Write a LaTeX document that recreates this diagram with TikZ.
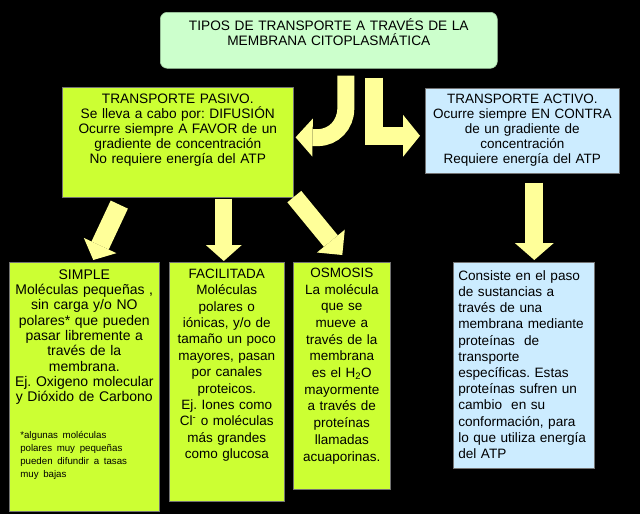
\documentclass[tikz,border=0pt]{standalone}
\usepackage{fontspec}
\setmainfont{Liberation Sans}
\usetikzlibrary{arrows.meta}
\frenchspacing
\hyphenpenalty=10000

\definecolor{titverde}{RGB}{204,255,204}
\definecolor{pasverde}{RGB}{204,255,51}
\definecolor{actazul}{RGB}{204,236,255}
\definecolor{amarillo}{RGB}{255,255,153}

\begin{document}
\begin{tikzpicture}[x=1pt, y=-1pt,
  caja/.style={draw=black!55, line width=0.6pt, anchor=north west,
               inner xsep=4pt, inner ysep=0pt, align=center,
               font=\fontsize{13.5}{15}\selectfont},
  verde/.style={caja, fill=pasverde},
  azul/.style={caja, fill=actazul},
  flecha/.style={draw=amarillo, line width=18pt},
  punta/.style={-{Triangle[length=#1, line width=0pt]}}
]
  \fill[black] (0,0) rectangle (640,514);

  % cajas
  \node[caja, fill=titverde, draw=titverde!80!black, rounded corners=7pt,
        text width=329pt, text height=18pt, text depth=38pt,
        font=\fontsize{13.7}{15}\selectfont] (titulo) at (160,12)
        {TIPOS DE TRANSPORTE A TRAVÉS DE LA\\MEMBRANA CITOPLASMÁTICA};
  \node[verde, text width=223pt, text height=16pt, text depth=94pt,
        font=\fontsize{13.7}{15}\selectfont] (pasivo) at (62,87)
        {TRANSPORTE PASIVO.\\Se lleva a cabo por: DIFUSIÓN\\Ocurre siempre A FAVOR de un\\gradiente de concentración\\No requiere energía del ATP};
  \node[azul, text width=186pt, text height=15pt, text depth=70pt] (activo) at (425,88)
        {TRANSPORTE ACTIVO.\\Ocurre siempre EN CONTRA\\de un gradiente de\\concentración\\Requiere energía del ATP};
  \node[verde, text width=142pt, text height=17pt, text depth=232pt,
        font=\fontsize{14}{15.3}\selectfont] (simple) at (9,262)
        {SIMPLE\\Moléculas pequeñas ,\\sin carga y/o NO\\polares* que pueden\\pasar libremente a\\través de la\\membrana.\\Ej. Oxigeno molecular\\y Dióxido de Carbono\par
         \vspace{21pt}\hspace*{6pt}\makebox[134pt][l]{\fontsize{9.7}{13.3}\selectfont
         \begin{tabular}[t]{@{}l@{}}*algunas moléculas\\polares muy pequeñas\\pueden difundir a tasas\\muy bajas\end{tabular}}};
  \node[verde, text width=107pt, text height=16pt, text depth=223pt,
        font=\fontsize{13.5}{16.4}\selectfont] (facilitada) at (169,262)
        {FACILITADA\\Moléculas\\polares o\\iónicas, y/o de\\tamaño un poco\\mayores, pasan\\por canales\\proteicos.\\Ej. Iones como\\Cl\textsuperscript{-} o moléculas\\más grandes\\como glucosa};
  \node[verde, text width=89pt, text height=15pt, text depth=212pt,
        font=\fontsize{13.5}{16.7}\selectfont] (osmosis) at (293,262)
        {OSMOSIS\\La molécula\\que se\\mueve a\\través de la\\membrana\\es el H\textsubscript{2}O\\mayormente\\a través de\\proteínas\\llamadas\\acuaporinas.};
  \node[azul, align=left, inner xsep=5pt, text width=131pt, text height=18pt, text depth=188pt,
        font=\fontsize{13.6}{16.2}\selectfont] (detalle) at (453,262)
        {Consiste en el paso\\de sustancias a\\través de una\\membrana mediante\\proteínas~ de\\transporte\\específicas. Estas\\proteínas sufren un\\cambio~ en su\\conformación, para\\lo que utiliza energía\\del ATP};

  % flechas
  \draw[flecha, line width=17pt, punta={17pt, width=38pt}]
    ([shift={(17,7)}]titulo.south) -- ++(0,33)
    .. controls +(0,16) and +(16,0) .. ++(-28,29)
    -- ([shift={(2,-5)}]pasivo.east);
  \draw[flecha, punta={17pt, width=42pt}]
    ([shift={(45,9)}]titulo.south) |- ([shift={(-5,5)}]activo.west);
  \draw[flecha, line width=19pt, punta={16pt, width=36pt}]
    ([shift={(-58.5,7)}]pasivo.south) -- ([shift={(9,-2)}]simple.north);
  \draw[flecha, line width=17pt, punta={16pt, width=36pt}]
    ([shift={(46,1)}]pasivo.south) -- ([shift={(-3,-1)}]facilitada.north);
  \draw[flecha, punta={18pt, width=36pt}]
    ([shift={(116.5,-1)}]pasivo.south) -- ([shift={(0.5,-7)}]osmosis.north);
  \draw[flecha, punta={17pt, width=39pt}]
    ([shift={(12,9)}]activo.south) -- ([shift={(10.5,-2)}]detalle.north);
\end{tikzpicture}
\end{document}
